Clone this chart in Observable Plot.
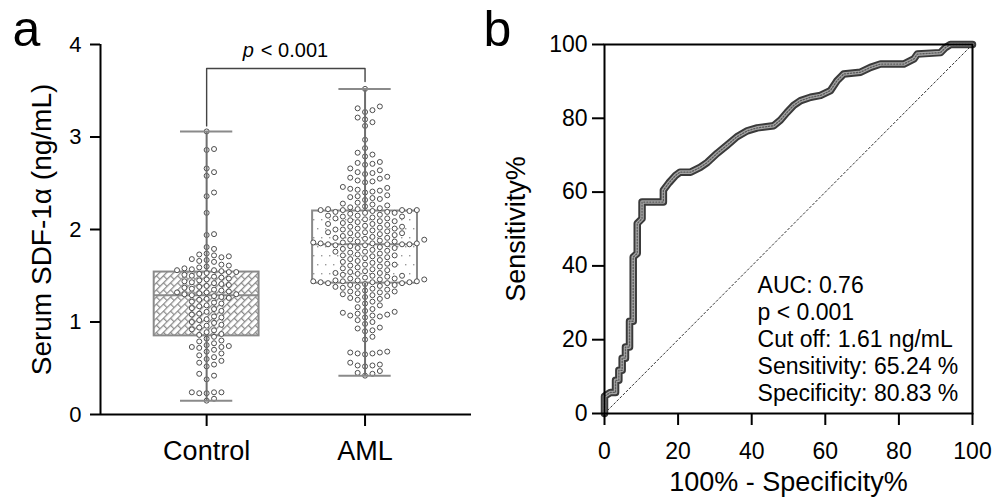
<!DOCTYPE html>
<html><head><meta charset="utf-8">
<script src="https://cdn.jsdelivr.net/npm/d3@7"></script>
<script src="https://cdn.jsdelivr.net/npm/@observablehq/plot@0.6"></script>
<style>
body{margin:0;background:#fff;}
#wrap{display:flex;width:998px;height:502px;overflow:hidden;}
</style></head><body><div id="wrap"></div>
<script>
// ---------- Panel a data ----------
const groups = ["Control", "AML"];
const boxMin = [0.15, 0.42];
const boxQ1 = [0.85, 1.42];
const boxMed = [1.29, 1.84];
const boxQ3 = [1.54, 2.20];
const boxMax = [3.06, 3.52];
const yTicksA = [0, 1, 2, 3, 4];
const yTitleA = "Serum SDF-1α (ng/mL)";
const bracketX = [0, 0, 1, 1];
const bracketY = [3.12, 3.74, 3.74, 3.60];
const pLabelY = 3.86;

const controlValues = [
  3.06, 2.87, 2.86, 2.66, 2.62, 2.58, 2.40, 2.36, 2.18, 1.95, 1.94, 1.81, 1.79,
  1.74, 1.73, 1.72, 1.71, 1.70, 1.68, 1.67, 1.66, 1.65, 1.62, 1.61, 1.60, 1.59, 1.58, 1.57, 1.56, 1.56,
  1.55, 1.54, 1.54, 1.53, 1.52, 1.51, 1.50, 1.49, 1.48, 1.47, 1.46, 1.45, 1.44, 1.43, 1.42, 1.41,
  1.40, 1.39, 1.38, 1.37, 1.36, 1.35, 1.34, 1.33, 1.32, 1.32, 1.31, 1.30, 1.30, 1.29,
  1.28, 1.27, 1.26, 1.25, 1.24, 1.22, 1.21, 1.20, 1.18, 1.17, 1.15, 1.14, 1.12, 1.11, 1.09,
  1.08, 1.06, 1.05, 1.03, 1.02, 1.00, 0.99, 0.97, 0.96, 0.94, 0.92, 0.91, 0.89, 0.87, 0.86,
  0.84, 0.82, 0.80, 0.79, 0.77, 0.75, 0.74, 0.73, 0.73, 0.72, 0.70, 0.68, 0.66, 0.64, 0.62,
  0.60, 0.58, 0.56, 0.54, 0.52, 0.44, 0.42, 0.38, 0.24, 0.24, 0.24, 0.23, 0.23, 0.17, 0.15
];
const amlValues = [
  3.52, 3.33, 3.31, 3.29, 3.27, 3.21, 3.19, 3.16, 3.12, 2.97, 2.88, 2.83, 2.81, 2.79,
  2.73, 2.72, 2.71, 2.70, 2.66, 2.64, 2.62, 2.61, 2.60, 2.57, 2.56, 2.55, 2.53, 2.52, 2.51,
  2.46, 2.45, 2.44, 2.43, 2.42, 2.41, 2.40, 2.37, 2.36, 2.35, 2.34, 2.33, 2.32,
  2.29, 2.28, 2.27, 2.26, 2.25, 2.24, 2.23, 2.22, 2.22, 2.21, 2.21, 2.21, 2.21, 2.20, 2.20,
  2.19, 2.19, 2.18, 2.18, 2.17, 2.16, 2.15, 2.15, 2.14, 2.14, 2.13, 2.12, 2.12, 2.11, 2.10,
  2.09, 2.09, 2.08, 2.07, 2.06, 2.06, 2.05, 2.04, 2.03, 2.03, 2.02, 2.01, 2.01, 2.00, 2.00,
  1.99, 1.98, 1.97, 1.97, 1.96, 1.96, 1.95, 1.94, 1.94, 1.93, 1.92, 1.91, 1.91, 1.90,
  1.89, 1.89, 1.88, 1.87, 1.87, 1.86, 1.86, 1.85, 1.85, 1.85, 1.84, 1.84, 1.84, 1.84,
  1.83, 1.83, 1.82, 1.81, 1.80, 1.80, 1.79, 1.78, 1.77, 1.76, 1.76, 1.75, 1.74, 1.73, 1.72,
  1.72, 1.71, 1.70, 1.69, 1.68, 1.67, 1.66, 1.65, 1.64, 1.63, 1.62, 1.62, 1.61, 1.60, 1.59,
  1.58, 1.57, 1.56, 1.55, 1.54, 1.53, 1.53, 1.52, 1.51, 1.50, 1.50, 1.49, 1.48, 1.47, 1.47,
  1.46, 1.46, 1.45, 1.45, 1.44, 1.44, 1.44, 1.43, 1.43, 1.43, 1.42, 1.42, 1.42,
  1.41, 1.40, 1.40, 1.39, 1.38, 1.38, 1.37, 1.36, 1.35, 1.34, 1.33, 1.33, 1.32, 1.31, 1.30,
  1.29, 1.28, 1.27, 1.26, 1.25, 1.24, 1.22, 1.20, 1.18, 1.16, 1.14, 1.12, 1.11, 1.10, 1.09,
  1.08, 1.07, 1.07, 1.06, 1.05, 1.02, 1.00, 0.98, 0.94, 0.93, 0.91, 0.90, 0.84, 0.81,
  0.68, 0.67, 0.67, 0.66, 0.66, 0.65, 0.56, 0.54, 0.53, 0.53, 0.52, 0.47, 0.45, 0.44, 0.42
];

// ---------- Panel b data ----------
const rocFpr = [0, 0, 1.6, 3.0, 3.0, 3.9, 3.9, 4.8, 4.8, 5.7, 5.7, 6.8, 6.8, 7.8, 7.8, 8.9, 8.9, 10.2, 10.2,
  16.0, 16.0, 17.5, 19.3, 20.5, 23.4, 26.0, 27.9, 30.6, 33.3, 36.0, 38.8, 41.5, 46.0, 47.8, 49.6, 51.4,
  53.3, 56.0, 58.7, 61.4, 63.2, 65.0, 69.6, 72.3, 75.0, 81.3, 84.1, 85.0, 91.3, 92.7, 94.0, 100];
const rocTpr = [0, 4.7, 5.7, 5.7, 9.0, 9.0, 11.7, 11.7, 15.0, 15.0, 18.0, 18.0, 25.0, 25.0, 42.4, 43.4, 51.5, 52.8, 57.3,
  57.3, 60.5, 62.5, 64.5, 65.4, 65.4, 66.7, 68.0, 70.5, 72.7, 75.0, 76.6, 77.4, 78.0, 79.5, 81.6, 83.5,
  84.8, 85.7, 86.2, 87.5, 90.2, 92.0, 92.5, 93.8, 94.7, 94.7, 96.1, 97.4, 97.8, 99.2, 100, 100];
const diagX = [0, 100];
const diagY = [0, 100];
const ticksB = [0, 20, 40, 60, 80, 100];
const annotationLines = ["AUC: 0.76", "p < 0.001", "Cut off: 1.61 ng/mL", "Sensitivity: 65.24 %", "Specificity: 80.83 %"];

const FONT = "Arial, 'Liberation Sans', sans-serif";

// ---------- Panel a ----------
const A = {width: 475, height: 502, ml: 100, mr: 4, mt: 44, mb: 88};
const xDomainA = [-0.67, 1.672];
const pxX = (A.width - A.ml - A.mr) / (xDomainA[1] - xDomainA[0]);
const pxY = (A.height - A.mt - A.mb) / (yTicksA[yTicksA.length - 1] - yTicksA[0]);

function swarm(values, gi) {
  const sorted = values.slice().sort((a, b) => a - b);
  const placed = [], out = [];
  const s = 7.4, D = 6.2;
  for (const v of sorted) {
    const py = v * pxY;
    let off = 0;
    for (let i = 0; i < 200; i++) {
      off = i === 0 ? 0 : (i % 2 ? 1 : -1) * Math.ceil(i / 2) * s;
      if (placed.every(p => (p.x - off) ** 2 + (p.y - py) ** 2 >= D * D)) break;
    }
    placed.push({x: off, y: py});
    out.push({x: gi + off / pxX, y: v});
  }
  return out;
}
const dots = [...swarm(controlValues, 0), ...swarm(amlValues, 1)];
const idx = [0, 1];
const halfBox = 0.331, halfCap = 0.165;
const boxStroke = "#8a8a8a";
const fills = ["url(#brickA)", "url(#dotsA)"];

const plotA = Plot.plot({
  width: A.width, height: A.height,
  marginLeft: A.ml, marginRight: A.mr, marginTop: A.mt, marginBottom: A.mb,
  x: {domain: xDomainA, axis: null},
  y: {domain: [0, 4], axis: null},
  style: {fontFamily: FONT, background: "white", color: "black", overflow: "visible"},
  marks: [
    ...idx.map(i => Plot.rect([i], {x1: d => d - halfBox, x2: d => d + halfBox, y1: d => boxQ1[d], y2: d => boxQ3[d],
      fill: fills[i], stroke: boxStroke, strokeWidth: 2})),
    Plot.ruleY(idx, {y: d => boxMed[d], x1: d => d - halfBox, x2: d => d + halfBox, stroke: boxStroke, strokeWidth: 2}),
    Plot.dot(dots, {x: "x", y: "y", r: 2.5, stroke: "#4d4d4d", strokeWidth: 1, fill: "white"}),
    Plot.ruleX(idx, {x: d => d, y1: d => boxMin[d], y2: d => boxQ1[d], stroke: "#6e6e6e", strokeWidth: 2}),
    Plot.ruleX(idx, {x: d => d, y1: d => boxQ3[d], y2: d => boxMax[d], stroke: "#6e6e6e", strokeWidth: 2}),
    Plot.ruleY(idx, {y: d => boxMin[d], x1: d => d - halfCap, x2: d => d + halfCap, stroke: boxStroke, strokeWidth: 2}),
    Plot.ruleY(idx, {y: d => boxMax[d], x1: d => d - halfCap, x2: d => d + halfCap, stroke: boxStroke, strokeWidth: 2}),
    Plot.line(bracketX.map((x, i) => ({x, y: bracketY[i]})), {x: "x", y: "y", stroke: "#444", strokeWidth: 1.4}),
    Plot.text(["p"], {x: 0.5, y: pLabelY, textAnchor: "end", lineAnchor: "bottom", dx: -32, fontSize: 20, fontStyle: "italic"}),
    Plot.text(["< 0.001"], {x: 0.5, y: pLabelY, textAnchor: "start", lineAnchor: "bottom", dx: -25, fontSize: 20}),
    Plot.axisY({ticks: yTicksA, tickFormat: d => String(d), tickSize: 10, tickPadding: 9, fontSize: 22, strokeWidth: 2, label: null}),
    Plot.axisX({ticks: idx, tickFormat: i => groups[i], tickSize: 12, tickPadding: 14, fontSize: 27, strokeWidth: 2, label: null}),
    Plot.ruleX([xDomainA[0]], {strokeWidth: 2, stroke: "black"}),
    Plot.ruleY([0], {strokeWidth: 2, stroke: "black"}),
    Plot.text([yTitleA], {frameAnchor: "left", textAnchor: "middle", dx: -58, rotate: -90, fontSize: 28}),
    Plot.text(["a"], {frameAnchor: "top-left", dx: -88, dy: 1, lineAnchor: "bottom", textAnchor: "start", fontSize: 50})
  ]
});

// patterns
{
  const defs = d3.select(plotA).insert("defs", ":first-child");
  const brick = defs.append("pattern").attr("id", "brickA").attr("patternUnits", "userSpaceOnUse")
    .attr("width", 10).attr("height", 10).attr("patternTransform", "rotate(-45)");
  brick.append("rect").attr("width", 10).attr("height", 10).attr("fill", "white");
  brick.append("path").attr("d", "M0,0.6H10M0,5.6H10M0.6,0.6V5.6M5.6,5.6V10.6")
    .attr("stroke", "#8a8a8a").attr("stroke-width", 1.2).attr("fill", "none");
  const dp = defs.append("pattern").attr("id", "dotsA").attr("patternUnits", "userSpaceOnUse")
    .attr("width", 8).attr("height", 18);
  dp.append("rect").attr("width", 8).attr("height", 18).attr("fill", "white");
  dp.append("rect").attr("x", 1).attr("y", 3).attr("width", 1.4).attr("height", 1.4).attr("fill", "#9a9a9a");
  dp.append("rect").attr("x", 5).attr("y", 12).attr("width", 1.4).attr("height", 1.4).attr("fill", "#9a9a9a");
}

// ---------- Panel b ----------
const B = {width: 523, height: 502, ml: 129, mr: 26, mt: 44, mb: 89};
const roc = rocFpr.map((x, i) => ({x, y: rocTpr[i]}));
const plotB = Plot.plot({
  width: B.width, height: B.height,
  marginLeft: B.ml, marginRight: B.mr, marginTop: B.mt, marginBottom: B.mb,
  x: {domain: [0, 100], axis: null},
  y: {domain: [0, 100], axis: null},
  style: {fontFamily: FONT, background: "white", color: "black", overflow: "visible"},
  marks: [
    Plot.line(diagX.map((x, i) => ({x, y: diagY[i]})), {x: "x", y: "y", stroke: "#333", strokeWidth: 1, strokeDasharray: "2,2.4"}),
    Plot.line(roc, {x: "x", y: "y", stroke: "#3a3a3a", strokeWidth: 7.5, strokeLinejoin: "round", strokeLinecap: "round"}),
    Plot.line(roc, {x: "x", y: "y", stroke: "#a5a5a5", strokeWidth: 3.6, strokeLinejoin: "round"}),
    Plot.line(roc, {x: "x", y: "y", stroke: "#5a5a5a", strokeWidth: 1.3, strokeDasharray: "1.2,1.8"}),
    Plot.axisY({ticks: ticksB, tickSize: 12, tickPadding: 5, fontSize: 23, strokeWidth: 2, label: null}),
    Plot.axisX({ticks: ticksB, tickSize: 12, tickPadding: 17, fontSize: 23, strokeWidth: 2, label: null}),
    Plot.frame({stroke: "black", strokeWidth: 2}),
    Plot.text([annotationLines.join("\n")], {x: 41.6, y: 3.5, textAnchor: "start", lineAnchor: "bottom", fontSize: 23, lineHeight: 27 / 23}),
    Plot.text(["Sensitivity%"], {frameAnchor: "left", textAnchor: "middle", dx: -88, rotate: -90, fontSize: 27}),
    Plot.text(["100% - Specificity%"], {frameAnchor: "bottom", dy: 77, lineAnchor: "bottom", fontSize: 27}),
    Plot.text(["b"], {frameAnchor: "top-left", dx: -121, dy: 1, lineAnchor: "bottom", textAnchor: "start", fontSize: 50})
  ]
});

document.getElementById("wrap").append(plotA, plotB);
</script>
</body></html>
